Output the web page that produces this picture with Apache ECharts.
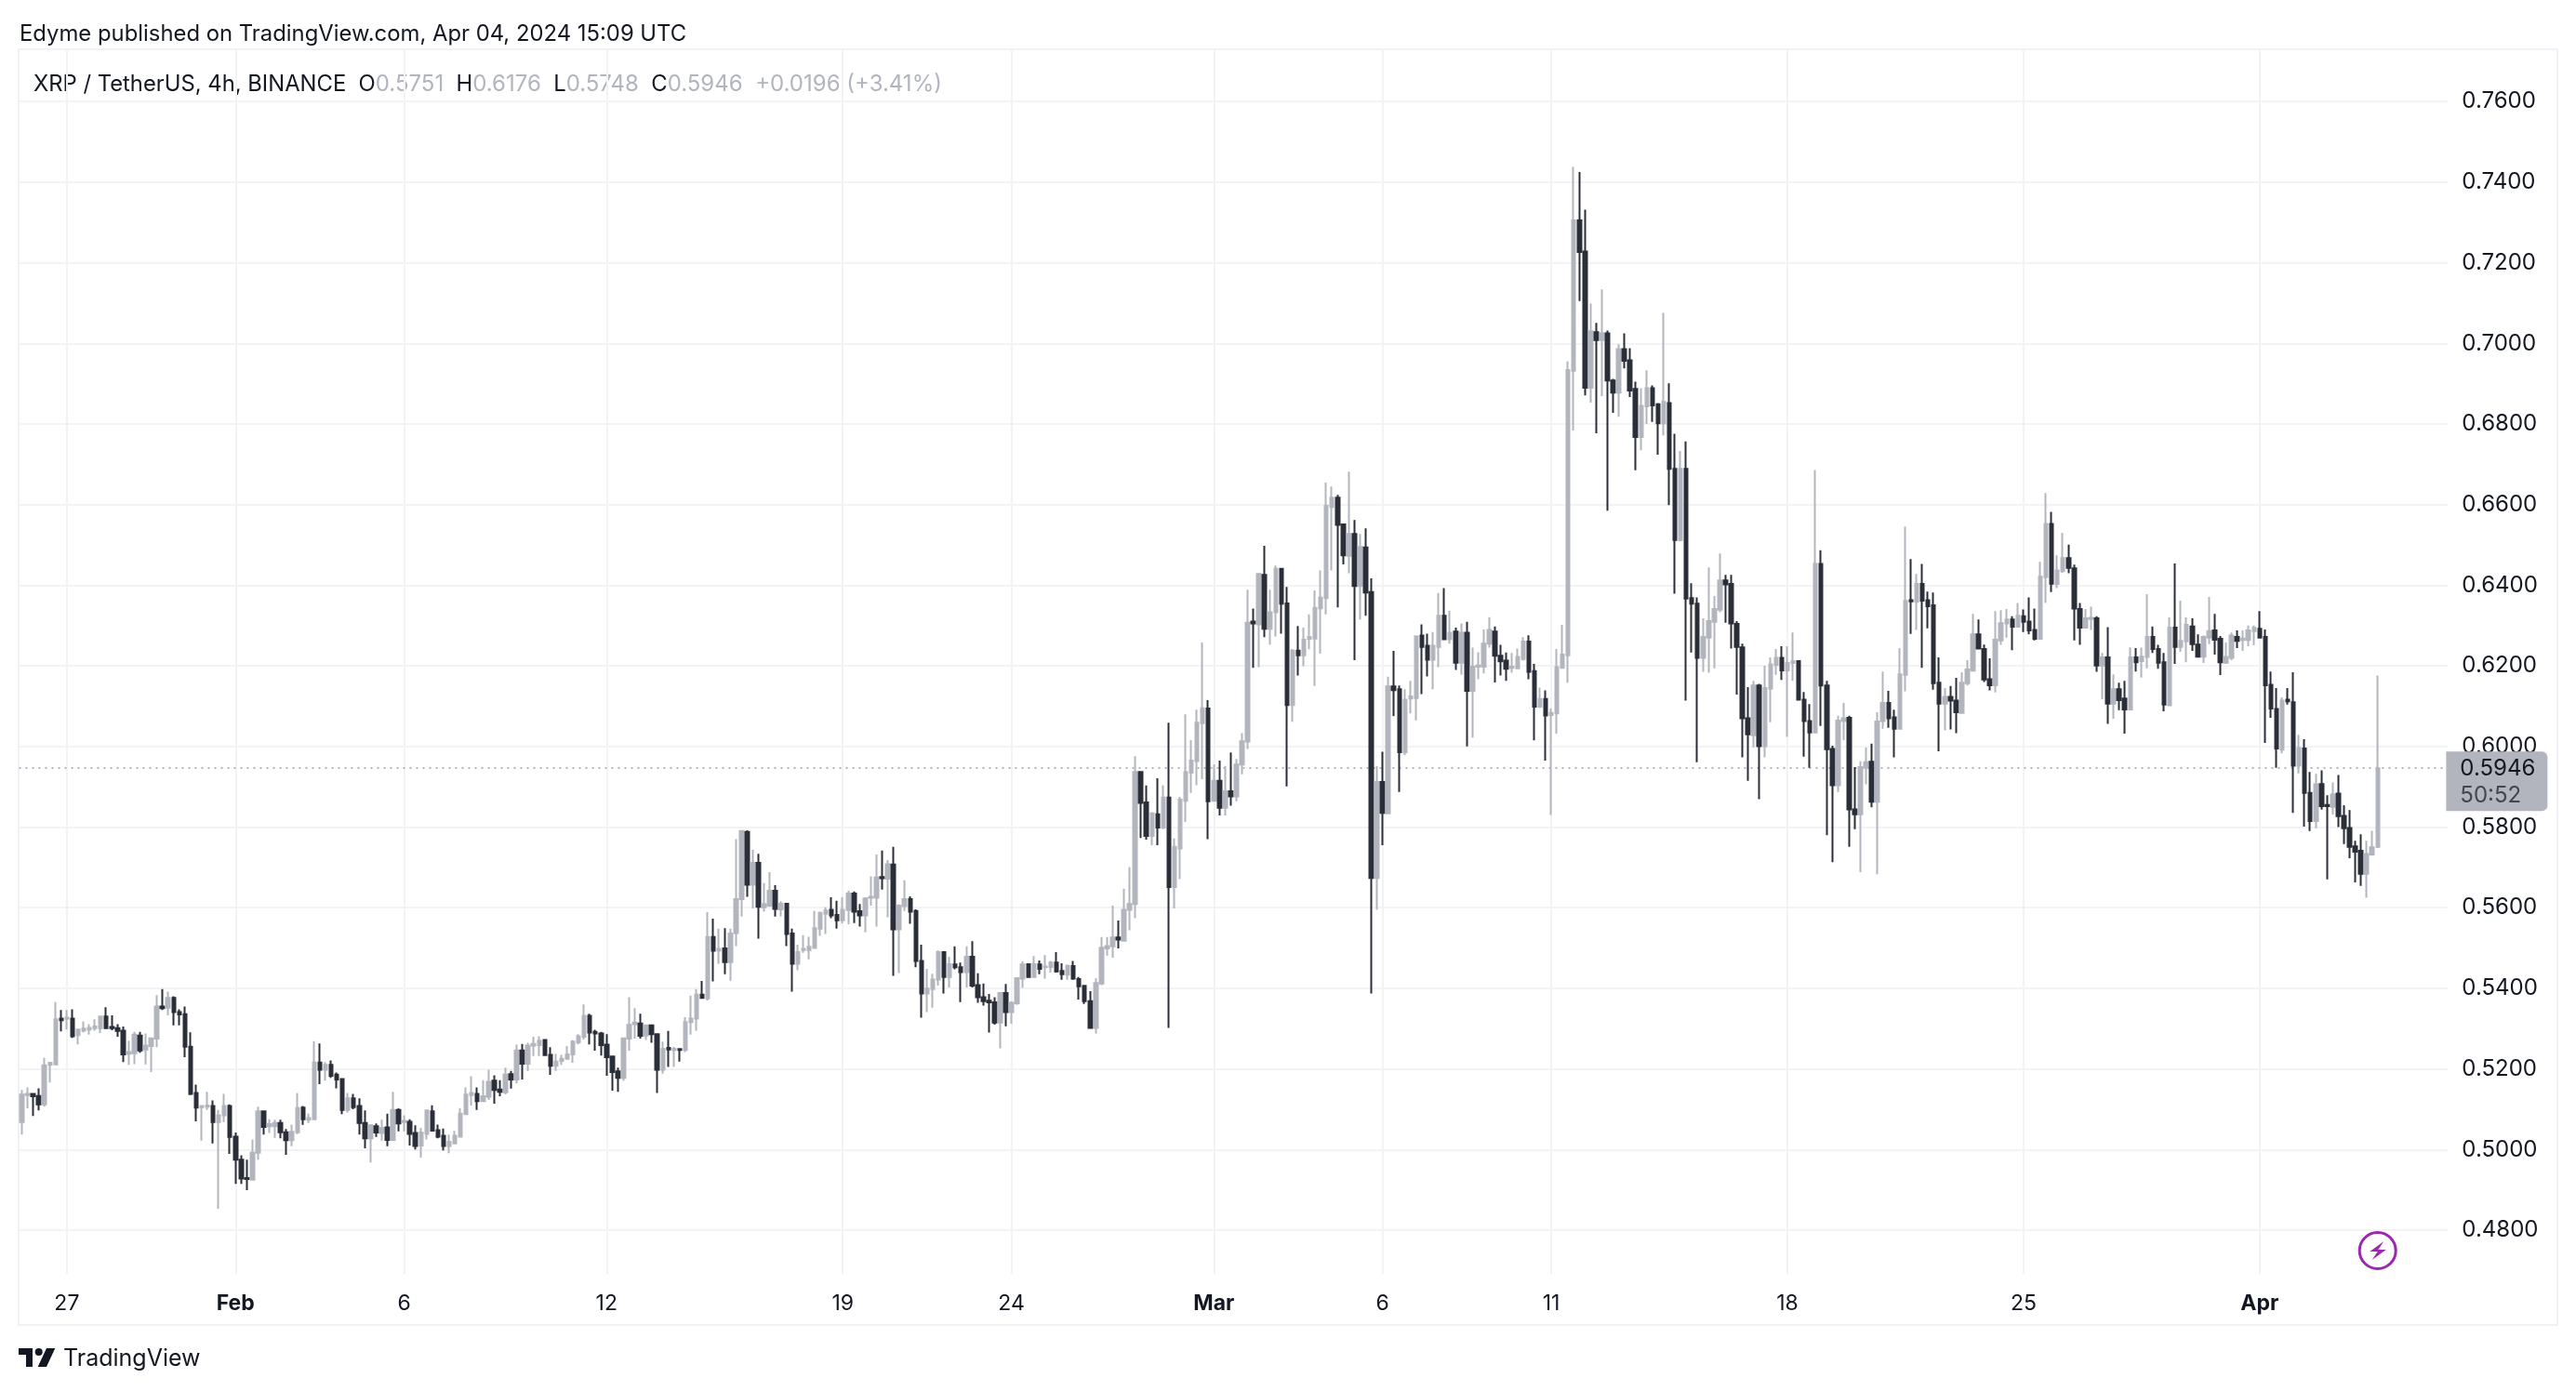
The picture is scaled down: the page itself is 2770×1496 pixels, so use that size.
<!DOCTYPE html>
<html lang="en">
<head>
<meta charset="utf-8">
<title>XRP / TetherUS, 4h</title>
<script src="https://cdn.jsdelivr.net/npm/echarts@6/dist/echarts.min.js"></script>
<style>
html,body{margin:0;padding:0;background:#fff;}
#main{width:2770px;height:1496px;}
</style>
</head>
<body>
<div id="main"></div>
<script>
// 4h candles
var opens = [
.5068,.5135,.5138,.5133,.5112,.5210,.5211,.5325,.5324,.5325,
.5284,.5295,.5298,.5301,.5301,.5330,.5304,.5301,.5295,.5238,
.5239,.5283,.5248,.5257,.5275,.5355,.5352,.5376,.5341,.5336,
.5255,.5140,.5105,.5106,.5108,.5068,.5085,.5108,.5032,.4975,
.4929,.4925,.4992,.5095,.5058,.5058,.5066,.5043,.5023,.5043,
.5104,.5074,.5075,.5216,.5198,.5210,.5186,.5175,.5098,.5127,
.5108,.5066,.5028,.5058,.5041,.5055,.5024,.5098,.5068,.5069,
.5041,.5010,.5039,.5095,.5048,.5034,.5009,.5015,.5032,.5088,
.5135,.5138,.5120,.5131,.5171,.5149,.5142,.5187,.5174,.5246,
.5213,.5258,.5259,.5272,.5235,.5208,.5220,.5225,.5236,.5266,
.5280,.5332,.5292,.5288,.5260,.5231,.5194,.5178,.5275,.5311,
.5313,.5283,.5308,.5286,.5198,.5252,.5247,.5249,.5247,.5316,
.5325,.5384,.5375,.5527,.5493,.5499,.5465,.5537,.5621,.5788,
.5657,.5711,.5601,.5605,.5642,.5596,.5610,.5536,.5461,.5495,
.5495,.5500,.5548,.5585,.5595,.5582,.5569,.5594,.5635,.5591,
.5581,.5625,.5625,.5676,.5672,.5707,.5546,.5604,.5621,.5592,
.5468,.5387,.5398,.5422,.5490,.5428,.5459,.5452,.5440,.5478,
.5408,.5378,.5369,.5365,.5315,.5388,.5341,.5363,.5424,.5460,
.5428,.5459,.5452,.5452,.5464,.5443,.5434,.5455,.5423,.5406,
.5368,.5302,.5412,.5499,.5504,.5526,.5518,.5595,.5609,.5937,
.5861,.5778,.5832,.5799,.5873,.5651,.5747,.5865,.5935,.5964,
.6058,.6094,.5865,.5915,.5848,.5889,.5876,.5955,.6012,.6310,
.6303,.6426,.6292,.6333,.6441,.6355,.6103,.6238,.6226,.6267,
.6268,.6343,.6368,.6594,.6617,.6551,.6473,.6527,.6398,.6494,
.6383,.5674,.5912,.5834,.6149,.6142,.5986,.6119,.6120,.6275,
.6250,.6215,.6247,.6324,.6266,.6285,.6208,.6282,.6138,.6198,
.6198,.6255,.6285,.6225,.6213,.6195,.6194,.6217,.6260,.6187,
.6099,.6118,.6078,.6082,.6195,.6226,.6932,.7305,.7228,.6890,
.7028,.7008,.7025,.6908,.6878,.6986,.6958,.6887,.6768,.6844,
.6889,.6849,.6802,.6852,.6689,.6512,.6689,.6368,.6354,.6220,
.6270,.6309,.6339,.6412,.6403,.6304,.6246,.6070,.6028,.6151,
.6001,.6143,.6202,.6220,.6189,.6207,.6212,.6116,.6063,.6035,
.6453,.6151,.5994,.5904,.6063,.6071,.5844,.5832,.5947,.5962,
.5863,.6063,.6108,.6072,.6044,.6178,.6363,.6359,.6403,.6363,
.6350,.6158,.6106,.6123,.6114,.6083,.6157,.6188,.6278,.6242,
.6167,.6152,.6263,.6305,.6315,.6297,.6323,.6310,.6289,.6267,
.6420,.6552,.6403,.6435,.6467,.6442,.6341,.6295,.6316,.6318,
.6201,.6221,.6106,.6142,.6119,.6092,.6221,.6212,.6222,.6272,
.6242,.6209,.6102,.6295,.6247,.6261,.6298,.6253,.6223,.6270,
.6288,.6267,.6208,.6220,.6272,.6264,.6264,.6286,.6292,.6272,
.6153,.6093,.5992,.6116,.6110,.5952,.5995,.5885,.5815,.5907,
.5855,.5850,.5883,.5828,.5798,.5752,.5741,.5684,.5732,.5751
];
var highs = [
.5148,.5154,.5138,.5152,.5228,.5217,.5366,.5346,.5346,.5348,
.5300,.5318,.5311,.5323,.5330,.5353,.5333,.5311,.5305,.5270,
.5292,.5292,.5288,.5276,.5383,.5398,.5392,.5380,.5348,.5355,
.5291,.5161,.5109,.5143,.5122,.5098,.5138,.5112,.5042,.4986,
.4975,.5025,.5106,.5097,.5075,.5074,.5074,.5051,.5062,.5140,
.5108,.5089,.5269,.5263,.5217,.5221,.5191,.5177,.5140,.5138,
.5127,.5097,.5063,.5065,.5074,.5089,.5143,.5102,.5085,.5075,
.5060,.5054,.5098,.5110,.5062,.5052,.5037,.5046,.5103,.5154,
.5182,.5154,.5172,.5198,.5184,.5172,.5203,.5195,.5260,.5262,
.5265,.5280,.5281,.5274,.5254,.5237,.5235,.5257,.5271,.5286,
.5360,.5337,.5297,.5292,.5286,.5231,.5203,.5276,.5378,.5351,
.5337,.5310,.5310,.5288,.5268,.5294,.5255,.5249,.5328,.5382,
.5398,.5418,.5589,.5573,.5548,.5549,.5548,.5770,.5790,.5792,
.5744,.5734,.5661,.5688,.5656,.5616,.5612,.5548,.5508,.5532,
.5528,.5592,.5590,.5601,.5626,.5617,.5626,.5642,.5640,.5609,
.5626,.5678,.5732,.5742,.5718,.5751,.5608,.5668,.5628,.5596,
.5508,.5448,.5436,.5494,.5491,.5478,.5504,.5464,.5504,.5517,
.5437,.5412,.5386,.5378,.5388,.5411,.5368,.5427,.5467,.5462,
.5480,.5469,.5482,.5468,.5490,.5462,.5459,.5468,.5428,.5406,
.5393,.5425,.5527,.5527,.5605,.5568,.5647,.5701,.5976,.5937,
.5903,.5837,.5921,.5903,.6059,.5772,.5875,.6080,.6016,.6091,
.6258,.6115,.5955,.5965,.5951,.5985,.5969,.6033,.6389,.6342,
.6428,.6498,.6389,.6449,.6441,.6396,.6242,.6299,.6295,.6328,
.6387,.6437,.6655,.6645,.6624,.6553,.6682,.6562,.6527,.6541,
.6417,.5951,.5987,.6173,.6237,.6151,.6142,.6163,.6276,.6303,
.6280,.6284,.6381,.6393,.6337,.6295,.6305,.6309,.6245,.6234,
.6290,.6321,.6298,.6252,.6233,.6232,.6243,.6271,.6276,.6205,
.6146,.6139,.6095,.6242,.6302,.6955,.7438,.7425,.7332,.7099,
.7051,.7134,.7032,.6912,.6998,.7025,.6988,.6905,.6889,.6933,
.6896,.6852,.7076,.6901,.6776,.6733,.6757,.6405,.6370,.6318,
.6444,.6373,.6479,.6426,.6426,.6311,.6255,.6147,.6163,.6155,
.6200,.6221,.6242,.6249,.6249,.6283,.6214,.6135,.6105,.6686,
.6487,.6163,.6002,.6076,.6108,.6076,.5949,.5963,.5997,.6007,
.6085,.6186,.6138,.6091,.6244,.6546,.6465,.6428,.6453,.6384,
.6382,.6221,.6145,.6150,.6170,.6184,.6214,.6329,.6315,.6253,
.6219,.6336,.6338,.6341,.6323,.6356,.6340,.6370,.6342,.6458,
.6629,.6582,.6474,.6530,.6501,.6451,.6356,.6341,.6347,.6323,
.6232,.6296,.6179,.6158,.6163,.6246,.6244,.6245,.6378,.6298,
.6252,.6232,.6320,.6454,.6362,.6320,.6318,.6278,.6275,.6371,
.6329,.6274,.6258,.6283,.6288,.6288,.6300,.6300,.6336,.6290,
.6186,.6145,.6122,.6145,.6184,.6029,.6018,.5937,.5932,.5941,
.5879,.5911,.5929,.5854,.5842,.5766,.5782,.5766,.5791,.6176
];
var lows = [
.5037,.5102,.5083,.5097,.5106,.5166,.5211,.5293,.5298,.5277,
.5261,.5291,.5285,.5295,.5289,.5301,.5296,.5280,.5217,.5210,
.5212,.5240,.5211,.5192,.5254,.5346,.5333,.5308,.5308,.5229,
.5135,.5070,.5022,.5098,.5015,.4853,.5068,.4989,.4915,.4915,
.4899,.4925,.4975,.5037,.5041,.5029,.5028,.4987,.5008,.5038,
.5061,.5066,.5074,.5162,.5171,.5178,.5152,.5088,.5092,.5100,
.5037,.5003,.4968,.5031,.5022,.5008,.5024,.5045,.5045,.5010,
.5000,.4980,.5025,.5047,.5028,.4998,.4991,.5014,.5032,.5088,
.5109,.5098,.5118,.5123,.5114,.5132,.5137,.5151,.5164,.5174,
.5195,.5232,.5232,.5234,.5185,.5195,.5210,.5225,.5215,.5261,
.5273,.5261,.5245,.5233,.5183,.5146,.5143,.5171,.5245,.5275,
.5275,.5272,.5265,.5140,.5188,.5205,.5205,.5218,.5242,.5285,
.5295,.5376,.5370,.5417,.5461,.5435,.5419,.5505,.5578,.5627,
.5598,.5523,.5590,.5602,.5578,.5578,.5505,.5392,.5445,.5488,
.5472,.5499,.5530,.5535,.5574,.5548,.5561,.5559,.5562,.5553,
.5539,.5605,.5553,.5645,.5576,.5431,.5438,.5592,.5560,.5452,
.5327,.5341,.5352,.5407,.5387,.5402,.5447,.5366,.5402,.5402,
.5364,.5357,.5290,.5310,.5251,.5306,.5312,.5359,.5401,.5428,
.5428,.5435,.5424,.5439,.5439,.5421,.5421,.5421,.5372,.5361,
.5302,.5288,.5408,.5481,.5476,.5499,.5518,.5544,.5574,.5773,
.5769,.5755,.5755,.5795,.5302,.5598,.5671,.5813,.5885,.5904,
.5919,.5770,.5864,.5829,.5829,.5853,.5864,.5931,.5994,.6195,
.6197,.6271,.6253,.6273,.6280,.5901,.6061,.6176,.6199,.6241,
.6150,.6230,.6328,.6437,.6345,.6452,.6430,.6214,.6315,.6324,
.5387,.5595,.5755,.5833,.6075,.5887,.5978,.6082,.6065,.6130,
.6174,.6142,.6197,.6266,.6255,.6190,.6178,.6000,.6022,.6167,
.6181,.6245,.6159,.6176,.6163,.6183,.6193,.6213,.6167,.6015,
.6096,.5965,.5830,.6032,.6194,.6158,.6784,.7105,.6871,.6853,
.6777,.6869,.6585,.6828,.6818,.6938,.6867,.6685,.6735,.6800,
.6805,.6724,.6772,.6599,.6379,.6509,.6114,.6233,.5961,.6185,
.6183,.6194,.6333,.6307,.6243,.6129,.5973,.5915,.5998,.5869,
.5973,.6060,.6178,.6165,.6024,.6163,.6116,.5975,.5947,.6035,
.6051,.5780,.5713,.5887,.6016,.5751,.5795,.5688,.5906,.5849,
.5683,.6044,.6046,.5973,.6044,.6137,.6279,.6289,.6195,.6293,
.6141,.5988,.6040,.6042,.6033,.6083,.6151,.6188,.6243,.6160,
.6139,.6134,.6252,.6270,.6239,.6295,.6284,.6278,.6263,.6267,
.6356,.6383,.6393,.6431,.6430,.6263,.6252,.6295,.6289,.6185,
.6117,.6056,.6069,.6090,.6032,.6089,.6186,.6171,.6194,.6232,
.6193,.6087,.6102,.6205,.6235,.6209,.6237,.6222,.6207,.6254,
.6228,.6177,.6205,.6214,.6244,.6237,.6249,.6251,.6270,.6009,
.6071,.5947,.5983,.6104,.5835,.5933,.5801,.5790,.5797,.5843,
.5670,.5831,.5800,.5758,.5723,.5663,.5654,.5625,.5729,.5748
];
var closes = [
.5136,.5138,.5132,.5112,.5209,.5215,.5323,.5321,.5327,.5281,
.5298,.5300,.5302,.5305,.5330,.5301,.5301,.5294,.5236,.5242,
.5285,.5246,.5258,.5276,.5355,.5351,.5376,.5341,.5335,.5255,
.5138,.5104,.5108,.5109,.5068,.5085,.5108,.5031,.4975,.4928,
.4927,.4992,.5095,.5056,.5063,.5066,.5043,.5023,.5044,.5103,
.5075,.5078,.5216,.5198,.5210,.5183,.5174,.5098,.5127,.5105,
.5066,.5028,.5060,.5042,.5054,.5024,.5098,.5065,.5071,.5039,
.5009,.5042,.5097,.5047,.5032,.5009,.5019,.5034,.5089,.5136,
.5140,.5120,.5132,.5168,.5148,.5143,.5186,.5174,.5246,.5213,
.5258,.5262,.5270,.5234,.5208,.5218,.5225,.5236,.5268,.5281,
.5332,.5290,.5288,.5259,.5229,.5192,.5178,.5276,.5309,.5315,
.5282,.5308,.5286,.5198,.5250,.5248,.5250,.5247,.5316,.5325,
.5384,.5376,.5527,.5493,.5498,.5465,.5536,.5621,.5790,.5657,
.5711,.5602,.5609,.5642,.5597,.5610,.5535,.5461,.5490,.5498,
.5503,.5549,.5587,.5593,.5581,.5569,.5595,.5635,.5590,.5581,
.5623,.5627,.5675,.5673,.5708,.5546,.5605,.5621,.5590,.5468,
.5387,.5399,.5422,.5490,.5428,.5460,.5452,.5440,.5478,.5407,
.5378,.5368,.5365,.5315,.5388,.5341,.5364,.5425,.5459,.5428,
.5460,.5448,.5454,.5464,.5442,.5435,.5455,.5424,.5405,.5368,
.5302,.5413,.5501,.5505,.5526,.5521,.5595,.5609,.5937,.5860,
.5778,.5834,.5799,.5873,.5651,.5751,.5868,.5937,.5965,.6059,
.6095,.5864,.5915,.5848,.5889,.5876,.5955,.6013,.6307,.6305,
.6428,.6292,.6333,.6441,.6354,.6103,.6238,.6226,.6265,.6272,
.6344,.6369,.6597,.6617,.6550,.6474,.6527,.6398,.6495,.6382,
.5674,.5912,.5835,.6149,.6140,.5986,.6116,.6124,.6273,.6247,
.6215,.6250,.6324,.6266,.6282,.6208,.6282,.6138,.6198,.6201,
.6255,.6289,.6225,.6211,.6193,.6198,.6222,.6260,.6185,.6099,
.6118,.6077,.6083,.6197,.6228,.6934,.7305,.7227,.6890,.7030,
.7008,.7025,.6908,.6878,.6986,.6957,.6883,.6768,.6845,.6889,
.6846,.6802,.6855,.6689,.6512,.6689,.6367,.6354,.6220,.6272,
.6311,.6341,.6412,.6402,.6305,.6247,.6070,.6030,.6151,.6001,
.6145,.6204,.6220,.6189,.6207,.6211,.6116,.6063,.6035,.6453,
.6151,.5993,.5904,.6064,.6070,.5844,.5832,.5949,.5961,.5863,
.6062,.6108,.6070,.6044,.6179,.6361,.6360,.6403,.6362,.6348,
.6157,.6106,.6123,.6114,.6085,.6158,.6191,.6278,.6243,.6166,
.6152,.6265,.6306,.6315,.6297,.6324,.6309,.6288,.6267,.6421,
.6552,.6404,.6437,.6467,.6443,.6342,.6295,.6318,.6319,.6201,
.6221,.6106,.6142,.6115,.6092,.6221,.6209,.6223,.6272,.6242,
.6208,.6104,.6295,.6247,.6262,.6302,.6254,.6223,.6272,.6286,
.6265,.6209,.6222,.6275,.6262,.6268,.6288,.6294,.6270,.6152,
.6094,.5995,.6114,.6112,.5952,.5996,.5885,.5815,.5906,.5852,
.5852,.5881,.5827,.5797,.5751,.5739,.5684,.5733,.5750,.5946
];
// x axis marks: candle number and its label
var tickIndex  = [8, 38, 68, 104, 146, 176, 212, 242, 272, 314, 356, 398];
var tickLabels = ['27', 'Feb', '6', '12', '19', '24', 'Mar', '6', '11', '18', '25', 'Apr'];
var monthLabels = ['Feb', 'Mar', 'Apr'];
var priceTicks = [0.48, 0.50, 0.52, 0.54, 0.56, 0.58, 0.60, 0.62, 0.64, 0.66, 0.68, 0.70, 0.72, 0.74, 0.76];
var futureSlots = 12;   // empty room right of the last candle
var countdown = '50:52';

var DARK = '#2A2E39', GREY = '#B2B5BE', INK = '#131722', GRIDC = '#F3F3F6', EDGE = '#F0F0F6';
var FONT = 'Inter';

var categories = [];
for (var i = 0; i < opens.length + futureSlots; i++) categories.push(String(i));
var candles = [];
for (var j = 0; j < opens.length; j++) candles.push([opens[j], closes[j], lows[j], highs[j]]);

var last = opens.length - 1;
function isTick(idx) { return tickIndex.indexOf(idx) >= 0; }

var chart = echarts.init(document.getElementById('main'), null, {renderer: 'canvas'});
chart.setOption({
  animation: false,
  backgroundColor: '#fff',
  grid: {left: 20.5, right: 137.63, top: 53, bottom: 126, containLabel: false},
  xAxis: {
    type: 'category',
    data: categories,
    boundaryGap: true,
    axisLine: {show: false},
    axisTick: {show: false, alignWithLabel: true, interval: function (idx) { return isTick(idx); }},
    splitLine: {show: true, alignWithLabel: true, interval: function (idx) { return isTick(idx); }, lineStyle: {color: GRIDC, width: 2}},
    axisLabel: {
      interval: function (idx) { return isTick(idx); },
      margin: 21,
      hideOverlap: false,
      fontFamily: FONT,
      fontSize: 23,
      color: INK,
      formatter: function (v) {
        var t = tickLabels[tickIndex.indexOf(Number(v))];
        return monthLabels.indexOf(t) >= 0 ? '{m|' + t + '}' : t;
      },
      rich: {m: {fontFamily: FONT, fontSize: 23, fontWeight: 700, color: INK}}
    }
  },
  yAxis: {
    type: 'value',
    position: 'right',
    min: 0.46916,
    max: 0.77297,
    axisLine: {show: false},
    axisTick: {show: false, customValues: priceTicks},
    splitLine: {show: true, lineStyle: {color: GRIDC, width: 2}},
    axisLabel: {
      customValues: priceTicks,
      margin: 15,
      padding: [6, 0, 0, 0],
      fontFamily: FONT,
      fontSize: 24,
      color: INK,
      formatter: function (v) { return v.toFixed(4); }
    }
  },
  series: [{
    type: 'candlestick',
    data: candles,
    barWidth: 4,
    z: 5,
    itemStyle: {color: GREY, color0: DARK, borderColor: GREY, borderColor0: DARK, borderWidth: 2},
    markLine: {
      silent: true,
      symbol: 'none',
      precision: 4,
      animation: false,
      lineStyle: {color: GREY, type: [2, 5], width: 2},
      label: {
        show: true,
        position: 'end',
        distance: 0,
        offset: [-2, 14],
        formatter: '{p|' + closes[last].toFixed(4) + '}\n{t|' + countdown + '}',
        backgroundColor: GREY,
        borderRadius: [0, 6, 6, 0],
        padding: [4, 13, 2, 15],
        rich: {
          p: {fontFamily: FONT, fontSize: 24, color: INK, lineHeight: 29, align: 'left'},
          t: {fontFamily: FONT, fontSize: 24, color: '#434651', lineHeight: 29, align: 'left'}
        }
      },
      data: [{yAxis: closes[last]}]
    }
  }],
  graphic: [
    {type: 'rect', z: -1, shape: {x: 20, y: 53, width: 2730, height: 1372}, style: {fill: 'none', stroke: EDGE, lineWidth: 2}},
    {type: 'text', left: 21, top: 25, style: {text: 'Edyme published on TradingView.com, Apr 04, 2024 15:09 UTC', font: '23.85px Inter', fill: INK}},
    {type: 'text', left: 36, top: 79, style: {
      text: '{d|XRP / TetherUS, 4h, BINANCE  O}{g|' + opens[last].toFixed(4) + '}{d|  H}{g|' + highs[last].toFixed(4) + '}{d|  L}{g|' + lows[last].toFixed(4) + '}{d|  C}{g|' + closes[last].toFixed(4) + '}{g|  +0.0196 (+3.41%)}',
      rich: {
        d: {font: '23.8px Inter', fill: INK},
        g: {font: '24px Inter', fill: GREY}
      }
    }},
    // TradingView logo
    {type: 'polygon', shape: {points: [[20, 1450], [35, 1450], [35, 1470], [28, 1470], [28, 1457], [20, 1457]]}, style: {fill: INK}},
    {type: 'circle', shape: {cx: 41.7, cy: 1454, r: 4}, style: {fill: INK}},
    {type: 'polygon', shape: {points: [[50, 1450], [59.3, 1450], [50, 1470], [40.7, 1470]]}, style: {fill: INK}},
    {type: 'text', left: 68, top: 1449, style: {text: 'TradingView', font: '25px Inter', fill: INK}},
    // purple bolt badge
    {type: 'circle', shape: {cx: 2556.7, cy: 1345, r: 19.5}, style: {fill: '#fff', stroke: '#9C27B0', lineWidth: 3}, z: 6},
    {type: 'polygon', shape: {points: [[2563.3, 1335], [2548.3, 1346], [2556.7, 1346], [2550.7, 1355], [2565.7, 1344], [2557.3, 1344]]}, style: {fill: '#9C27B0'}, z: 7}
  ]
});
</script>
</body>
</html>
